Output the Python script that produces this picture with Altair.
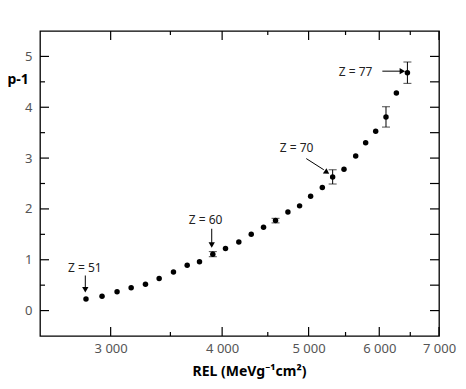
import altair as alt
import pandas as pd

# ---- data ----
rel = [2815, 2934, 3050, 3163, 3282, 3400, 3528, 3655, 3773, 3905, 4035, 4176, 4312, 4451,
       4591, 4740, 4885, 5026, 5180, 5320, 5478, 5646, 5793, 5945, 6105, 6271, 6452]
p1 = [0.23, 0.28, 0.37, 0.45, 0.52, 0.63, 0.76, 0.89, 0.96, 1.11, 1.22, 1.35, 1.50, 1.64,
      1.77, 1.94, 2.06, 2.25, 2.42, 2.63, 2.78, 3.04, 3.30, 3.53, 3.81, 4.28, 4.68]
err_rel = [3905, 4591, 5320, 6105, 6452]
err_p = [1.11, 1.77, 2.63, 3.81, 4.68]
err_size = [0.05, 0.045, 0.14, 0.20, 0.21]

ann_text = ["Z = 51", "Z = 60", "Z = 70", "Z = 77"]
ann_x = [2807, 3832, 4847, 5645]
ann_y = [0.84, 1.78, 3.20, 4.69]
arr_x = [2810, 3894, 4970, 6048]
arr_y = [0.69, 1.61, 2.99, 4.71]
arr_x2 = [2810, 3894, 5200, 6330]
arr_y2 = [0.45, 1.33, 2.77, 4.71]
head_x = [2810, 3894, 5242, 6369]
head_y = [0.41, 1.29, 2.72, 4.71]
head_shape = ["triangle-down", "triangle-down", "triangle-right", "triangle-right"]
head_angle = [0, 0, 34, 0]

x_major = [3000, 4000, 5000, 6000, 7000]
x_minor = [3500, 4500, 5500, 6500]
y_major = [0, 1, 2, 3, 4, 5]
y_minor = [0.5, 1.5, 2.5, 3.5, 4.5]
y_all = [0, 0.5, 1, 1.5, 2, 2.5, 3, 3.5, 4, 4.5, 5]

W, H = 399, 305

pts = pd.DataFrame({"rel": rel, "p": p1})
errs = pd.DataFrame({"rel": err_rel, "p": err_p, "e": err_size})
errs["lo"] = errs["p"] - errs["e"]
errs["hi"] = errs["p"] + errs["e"]
ann = pd.DataFrame({"t": ann_text, "x": ann_x, "y": ann_y})
arr = pd.DataFrame({"x": arr_x, "y": arr_y, "x2": arr_x2, "y2": arr_y2})
heads = pd.DataFrame({"x": head_x, "y": head_y, "shape": head_shape, "angle": head_angle})

FONT = "Noto Sans"
xscale = alt.Scale(type="log", domain=[2500, 7000], nice=False)
yscale = alt.Scale(domain=[-0.5, 5.5], nice=False, zero=False)

x_axis = alt.Axis(
    orient="bottom", values=x_major, grid=False, domain=False, ticks=False,
    labelExpr="replace(format(datum.value, ','), ',', ' ')",
    labelPadding=6, labelFont=FONT, labelFontSize=13, labelColor="#555", labelFlush=False,
    title="REL (MeVg\u207b\u00b9cm\u00b2)", titleFont=FONT, titleFontSize=14, titleFontWeight="bold",
    titleColor="black", titleX=209, titleY=39, titleAlign="center", titleBaseline="alphabetic",
)
y_axis = alt.Axis(
    orient="left", values=y_major, grid=False, domain=False, ticks=False,
    format="d", labelPadding=8, labelFont=FONT, labelFontSize=13, labelColor="#555",
    labelFlush=False,
    title="p-1", titleAngle=0, titleFont=FONT, titleFontSize=14, titleFontWeight="bold",
    titleColor="black", titleX=-33, titleY=52, titleAlign="left", titleBaseline="alphabetic",
)

points = alt.Chart(pts).mark_circle(size=30, color="black", opacity=1).encode(
    x=alt.X("rel:Q", scale=xscale, axis=x_axis),
    y=alt.Y("p:Q", scale=yscale, axis=y_axis),
)


# inward tick marks on all four sides of the frame
def xticks(values, y0, y1):
    return alt.Chart(pd.DataFrame({"v": values})).mark_rule(color="black", strokeWidth=1.2).encode(
        x=alt.X("v:Q", scale=xscale, axis=None), y=alt.value(y0), y2=alt.value(y1))


def yticks(values, x0, x1):
    return alt.Chart(pd.DataFrame({"v": values})).mark_rule(color="black", strokeWidth=1.2).encode(
        y=alt.Y("v:Q", scale=yscale, axis=None), x=alt.value(x0), x2=alt.value(x1))


tick_layers = [
    xticks(x_major, H, H - 9), xticks(x_minor, H, H - 4),
    xticks(x_major, 0, 9), xticks(x_minor, 0, 4),
    yticks(y_major, 0, 9), yticks(y_minor, 0, 5),
    yticks(y_all, W, W - 9),
]

bars = alt.Chart(errs).mark_rule(color="black", strokeWidth=1).encode(
    x=alt.X("rel:Q", scale=xscale, axis=None),
    y=alt.Y("lo:Q", scale=yscale, axis=None),
    y2="hi:Q",
)
cap_lo = alt.Chart(errs).mark_tick(color="black", orient="horizontal", size=8, thickness=1).encode(
    x=alt.X("rel:Q", scale=xscale, axis=None),
    y=alt.Y("lo:Q", scale=yscale, axis=None),
)
cap_hi = alt.Chart(errs).mark_tick(color="black", orient="horizontal", size=8, thickness=1).encode(
    x=alt.X("rel:Q", scale=xscale, axis=None),
    y=alt.Y("hi:Q", scale=yscale, axis=None),
)

labels = alt.Chart(ann).mark_text(font=FONT, fontSize=12, color="#222", baseline="middle").encode(
    x=alt.X("x:Q", scale=xscale, axis=None),
    y=alt.Y("y:Q", scale=yscale, axis=None),
    text="t:N",
)
lines = alt.Chart(arr).mark_rule(color="black", strokeWidth=1).encode(
    x=alt.X("x:Q", scale=xscale, axis=None),
    y=alt.Y("y:Q", scale=yscale, axis=None),
    x2="x2:Q", y2="y2:Q",
)
arrowheads = alt.Chart(heads).mark_point(filled=True, color="black", opacity=1, size=40).encode(
    x=alt.X("x:Q", scale=xscale, axis=None),
    y=alt.Y("y:Q", scale=yscale, axis=None),
    shape=alt.Shape("shape:N", scale=None, legend=None),
    angle=alt.Angle("angle:Q", scale=None),
)

chart = alt.layer(points, *tick_layers, bars, cap_lo, cap_hi, lines, arrowheads, labels).resolve_axis(
    x="independent", y="independent"
).properties(
    width=W, height=H,
    autosize=alt.AutoSizeParams(type="none"),
    padding={"left": 32, "top": 23, "right": 19, "bottom": 45},
).configure_view(stroke="black", strokeWidth=1.3)

chart.save("out.html", embed_options={"renderer": "svg", "actions": False})
